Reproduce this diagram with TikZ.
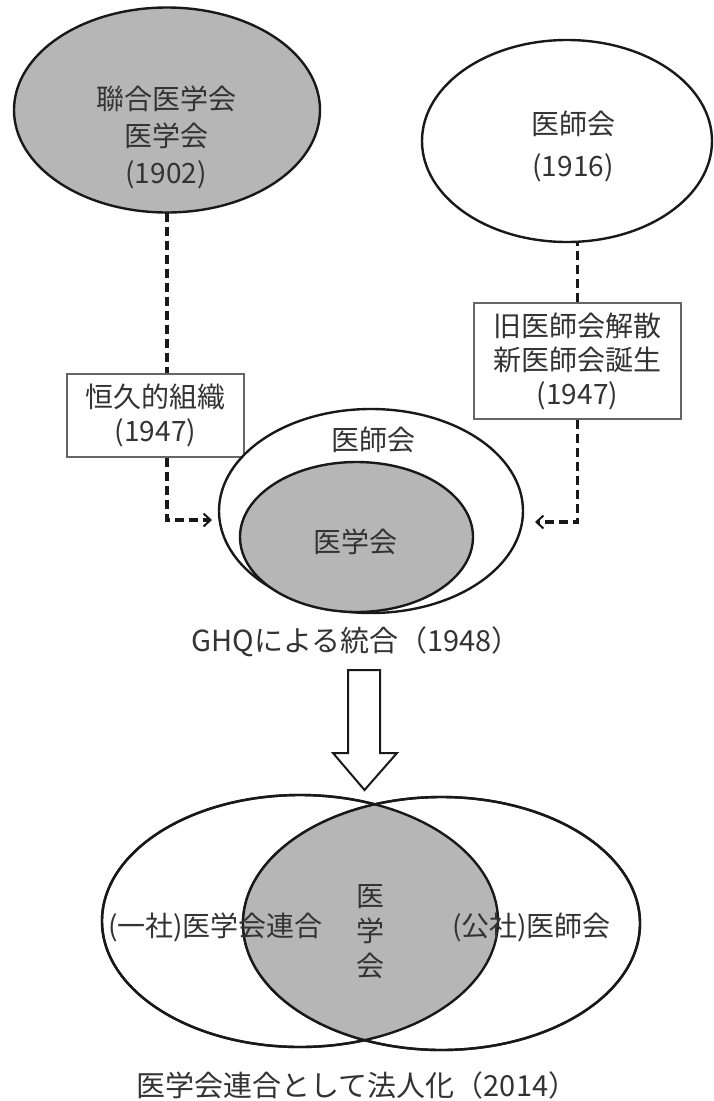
\documentclass[tikz,border=0pt]{standalone}
\usepackage{fontspec}
\setmainfont{Noto Sans CJK JP}
\usetikzlibrary{shapes.geometric,arrows.meta,calc}
\definecolor{txt}{HTML}{333333}
\definecolor{hatchgray}{HTML}{B6B6B6}
\begin{document}
\begin{tikzpicture}[x=1pt,y=-1pt,
  oval/.style={ellipse,draw=black!90,line width=2.4pt,inner sep=0pt,outer sep=0pt},
  lab/.style={text=txt,font=\fontsize{28}{37}\selectfont,align=center,inner sep=0pt},
  tagbox/.style={draw=black!60,line width=1.1pt,fill=white,text=txt,
     font=\fontsize{28}{34}\selectfont,align=center,inner sep=0pt},
  dashline/.style={draw=black!90,line width=3.4pt,dash pattern=on 9pt off 5pt},
  tip/.style={-{Straight Barb[length=7pt,width=13pt,line width=2pt]}}
]
\useasboundingbox (0,0) rectangle (714,1101);

% top ellipses
\node[oval,fill=hatchgray,minimum width=306pt,minimum height=205pt] (lt) at (167,110) {};
\node[lab] (ltt) at (166,137) {聯合医学会\\医学会\\(1902)};
\node[oval,fill=white,minimum width=290pt,minimum height=202pt] (rt) at (567,141) {};
\node[lab,font=\fontsize{28}{42}\selectfont] (rtt) at (573,146) {医師会\\(1916)};

% boxes
\node[tagbox,minimum width=177pt,minimum height=83pt] (b1) at (155.5,415.5) {恒久的組織\\(1947)};
\node[tagbox,minimum width=207pt,minimum height=116pt] (b2) at (577.5,361) {旧医師会解散\\新医師会誕生\\(1947)};

% middle ellipses
\node[oval,fill=white,minimum width=304pt,minimum height=204pt] (mo) at (371,511) {};
\node[oval,fill=hatchgray,minimum width=233pt,minimum height=150pt] (mi) at (356.5,537) {};
\node[lab] (mot) at (373,440) {医師会};
\node[lab] (mit) at (355,542) {医学会};

% dashed connectors
\draw[dashline] (lt.south) -- (lt.south |- b1.north);
\draw[dashline,tip,shorten >=7pt] (lt.south |- b1.south) |- ([yshift=-9pt]mo.west);
\draw[dashline] (b2.north) -- (b2.north |- rt.south);
\draw[dashline,tip,shorten >=12pt] (b2.south) |- ([yshift=-11pt]mo.east);

\node[lab,font=\fontsize{29}{34}\selectfont] (ghq) at (356,642) {GHQによる統合（1948）};

% big hollow arrow
\draw[line width=2pt,black!90,fill=white,line join=miter]
  (348,670) -- (380,670) -- (380,753) -- (397,753) -- (364.5,790)
  -- (333,753) -- (348,753) -- cycle;

% bottom venn
\node[oval,fill=white,minimum width=396pt,minimum height=252pt] (vl) at (300,921) {};
\node[oval,fill=white,minimum width=397pt,minimum height=253pt] (vr) at (441.5,923.5) {};
\begin{scope}
  \clip (300,921) ellipse [x radius=198, y radius=126];
  \fill[fill=hatchgray] (441.5,923.5) ellipse [x radius=198.5, y radius=126.5];
\end{scope}
\draw[line width=2.4pt,black!90] (300,921) ellipse [x radius=198, y radius=126];
\draw[line width=2.4pt,black!90] (441.5,923.5) ellipse [x radius=198.5, y radius=126.5];

\node[lab] (vlt) at (215.5,927) {(一社)医学会連合};
\node[lab] (vrt) at (531.5,927) {(公社)医師会};
\node[lab,font=\fontsize{28}{35}\selectfont] (vct) at (370,932) {医\\学\\会};

\node[lab,font=\fontsize{29}{34}\selectfont] (cap) at (357,1085) {医学会連合として法人化（2014）};
\end{tikzpicture}
\end{document}
